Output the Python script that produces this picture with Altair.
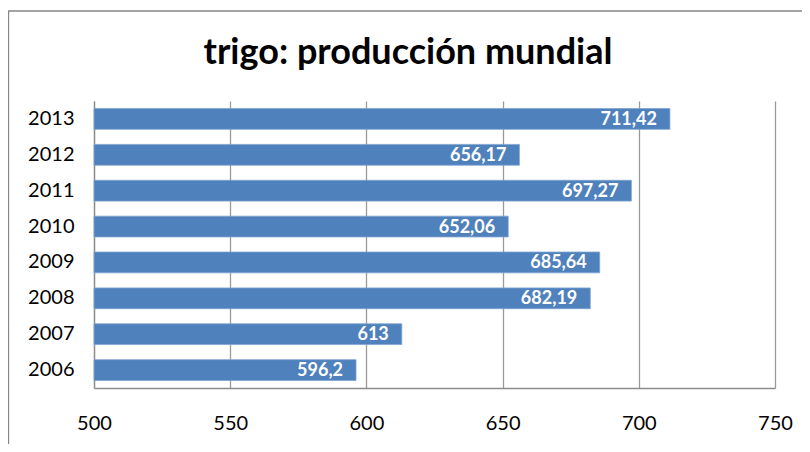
import altair as alt
import pandas as pd

years = ["2013", "2012", "2011", "2010", "2009", "2008", "2007", "2006"]
values = [711.42, 656.17, 697.27, 652.06, 685.64, 682.19, 613.0, 596.2]
labels = ["711,42", "656,17", "697,27", "652,06", "685,64", "682,19", "613", "596,2"]
x_ticks = [500, 550, 600, 650, 700, 750]
x_min, x_max = 500, 750
title_text = "trigo: producción mundial"

FONT = "Lato"
df = pd.DataFrame({"year": years, "value": values, "label": labels})

W, H = 681, 287

y_enc = alt.Y("year:N", sort=years, title=None,
              scale=alt.Scale(paddingInner=0.42, paddingOuter=0.21),
              axis=alt.Axis(ticks=False, labelPadding=20, labelFontSize=20,
                            labelFont=FONT, labelColor="#000000", domainColor="#8c8c8c",
                            domainWidth=1.3, grid=False))
x_enc = alt.X("value:Q", title=None,
              scale=alt.Scale(domain=[x_min, x_max], nice=False, zero=False),
              axis=alt.Axis(values=x_ticks, ticks=False, labelPadding=25, labelFontSize=20,
                            labelFont=FONT, labelColor="#000000", domainColor="#8c8c8c",
                            domainWidth=1.3, grid=True, gridColor="#9a9a9a", gridWidth=1.3,
                            labelFlush=False))

bars = alt.Chart(df).mark_bar(color="#4f81bd", stroke="#7fa3d0", strokeWidth=0.8).encode(
    x=x_enc, x2=alt.datum(x_min), y=y_enc)

texts = alt.Chart(df).mark_text(align="right", baseline="middle", dx=-13, dy=1, color="white",
                                fontWeight="bold", fontSize=18, font=FONT).encode(
    x="value:Q", y=alt.Y("year:N", sort=years), text="label:N")

title = alt.Chart(pd.DataFrame({"t": [title_text]})).mark_text(
    align="center", baseline="alphabetic", fontSize=36, fontWeight="bold", font=FONT, color="#000000"
).encode(text="t:N", x=alt.value(314), y=alt.value(-37))

border = alt.Chart(pd.DataFrame({"a": [0]})).mark_rect(
    fillOpacity=0, stroke="#868686", strokeWidth=1.3
).encode(x=alt.value(-85.5), x2=alt.value(760), y=alt.value(-90), y2=alt.value(400))

chart = alt.layer(border, bars, texts, title).properties(
    width=W, height=H,
    autosize=alt.AutoSizeParams(type="none"),
    padding={"left": 86, "top": 93, "right": 27, "bottom": 56},
).configure_view(stroke=None)

chart.save("out.html", embed_options={"renderer": "svg", "actions": False})
